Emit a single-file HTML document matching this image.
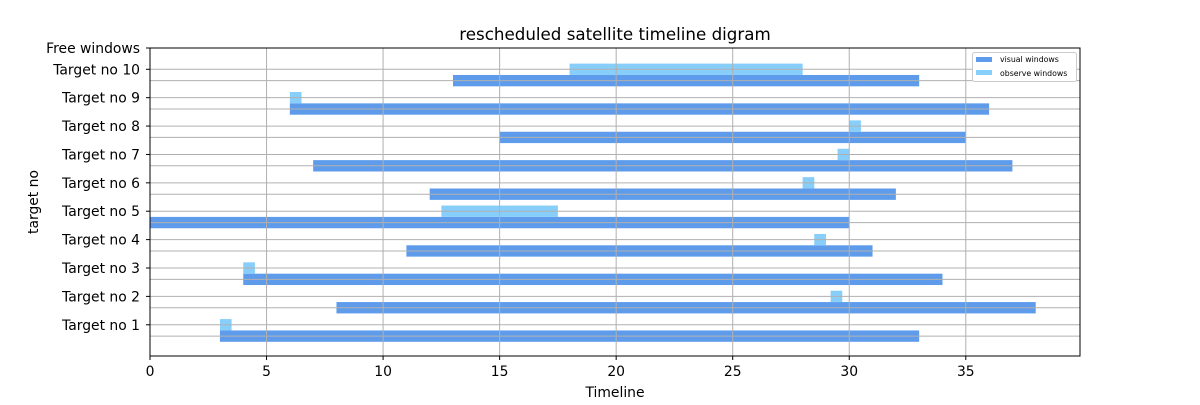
<!DOCTYPE html>
<html><head><meta charset="utf-8"><style>
body{margin:0;background:#fff;}
svg text{font-family:"DejaVu Sans","Liberation Sans",sans-serif;fill:#000;}
</style></head><body>
<svg id="chart" width="1200" height="400" viewBox="0 0 1200 400" xmlns="http://www.w3.org/2000/svg">
<rect width="1200" height="400" fill="#fff"/>
<g id="grid"></g>
<g id="bars"></g>
<g id="gridtop"></g>
<rect x="150" y="48" width="930" height="308" fill="none" stroke="#000" stroke-width="1"/>
<g id="axes"></g>
<text x="615" y="40" font-size="16.7" text-anchor="middle">rescheduled satellite timeline digram</text>
<text x="615" y="397" font-size="13.9" text-anchor="middle">Timeline</text>
<text x="38" y="202" font-size="13.9" text-anchor="middle" transform="rotate(-90 38 202)">target no</text>
<g>
<rect x="972.5" y="52.5" width="104" height="29" rx="2" fill="#fff" stroke="#ccc"/>
<g><rect x="976" y="57" width="16" height="5" fill="#5e9ceb"/><text x="1000" y="62" font-size="7.8">visual windows</text></g>
<g><rect x="976" y="70" width="16" height="5" fill="#87cefa"/><text x="1000" y="76" font-size="7.8">observe windows</text></g>
</g>
</svg>
<script>
const targets = ["Target no 1","Target no 2","Target no 3","Target no 4","Target no 5","Target no 6","Target no 7","Target no 8","Target no 9","Target no 10"];
const visualStart = [3,8,4,11,0,12,7,15,6,13];
const visualEnd = [33,38,34,31,30,32,37,35,36,33];
const observeStart = [3,29.2,4,28.5,12.5,28,29.5,30,6,18];
const observeEnd = [3.5,29.7,4.5,29,17.5,28.5,30,30.5,6.5,28];
const xTicks = [0,5,10,15,20,25,30,35];

const X0=150,X1=1080,Y0=356,Y1=48;
const xMin=0,xMax=39.9,yMin=5,yMax=113.5;
const xs=v=>X0+(v-xMin)/(xMax-xMin)*(X1-X0);
const ys=v=>Y0-(v-yMin)/(yMax-yMin)*(Y0-Y1);
const NS="http://www.w3.org/2000/svg";
function mk(tag,attrs,parent){const e=document.createElementNS(NS,tag);for(const k in attrs)e.setAttribute(k,attrs[k]);parent.appendChild(e);return e;}
const grid=document.getElementById('gridtop'),bars=document.getElementById('bars'),axes=document.getElementById('axes');

xTicks.forEach(t=>{
  const x=xs(t);
  const g=mk('line',{x1:x,x2:x,y1:Y1,y2:Y0,stroke:'#b0b0b0','stroke-width':1},grid);
  
  
  const tk=mk('line',{x1:x,x2:x,y1:Y0,y2:Y0+4,stroke:'#000'},axes);
  
  
  const tx=mk('text',{x:x,y:Y0+20,'font-size':13.9,'text-anchor':'middle'},axes);
  tx.textContent=t;
  
  
});

targets.forEach((name,i)=>{
  const base=10*(i+1);
  const v=mk('rect',{x:xs(visualStart[i]),y:ys(base+4),width:xs(visualEnd[i])-xs(visualStart[i]),height:ys(base)-ys(base+4),fill:'#5e9ceb'},bars);
  
  
  const o=mk('rect',{x:xs(observeStart[i]),y:ys(base+8),width:xs(observeEnd[i])-xs(observeStart[i]),height:ys(base+4)-ys(base+8),fill:'#87cefa'},bars);
  
  
  [base+2,base+6].forEach(yv=>{
    const y=ys(yv);
    const g=mk('line',{x1:X0,x2:X1,y1:y,y2:y,stroke:'#b0b0b0','stroke-width':1},grid);
    
    
  });
  const y=ys(base+6);
  const tk=mk('line',{x1:X0-4,x2:X0,y1:y,y2:y,stroke:'#000'},axes);
  
  
  const tx=mk('text',{x:X0-10,y:y+5,'font-size':13.9,'text-anchor':'end'},axes);
  tx.textContent=name;
  
  
});
const fy=ys(yMax);
const ft=mk('text',{x:X0-10,y:fy+5,'font-size':13.9,'text-anchor':'end'},axes);
ft.textContent='Free windows';


const fk=mk('line',{x1:X0-4,x2:X0,y1:fy,y2:fy,stroke:'#000'},axes);


</script>
</body></html>
